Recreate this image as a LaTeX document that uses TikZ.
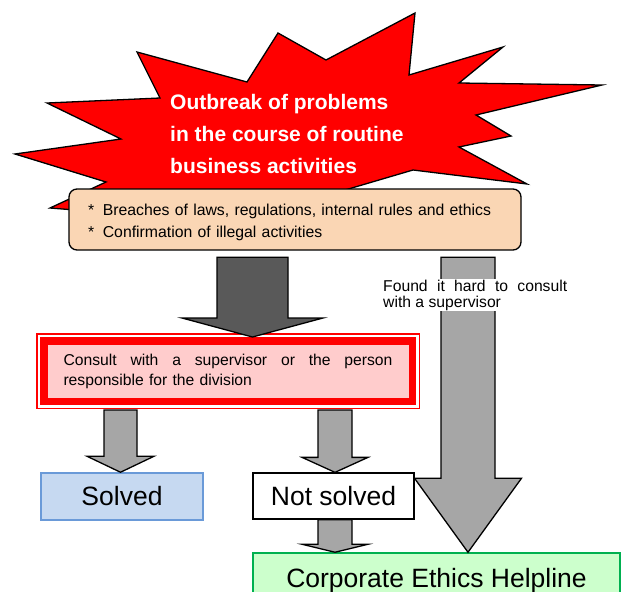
\documentclass[tikz,border=0pt]{standalone}
\usepackage{fontspec}
\setmainfont{Liberation Sans}
\usetikzlibrary{calc}

\definecolor{peach}{HTML}{FAD6B4}
\definecolor{pinkfill}{HTML}{FFCCCC}
\definecolor{darkarrow}{HTML}{595959}
\definecolor{lightarrow}{HTML}{A6A6A6}
\definecolor{solvedfill}{HTML}{C6D9F1}
\definecolor{solvedline}{HTML}{6A9AD8}
\definecolor{helpfill}{HTML}{CCFFCC}
\definecolor{helpline}{HTML}{00B050}

% block arrow: colour, x, from, to, half shaft, half head, head length
\newcommand\blockarrow[7]{%
  \draw[fill=#1, line width=1.3pt] let \p1=(#3), \p2=(#4) in
    (#2pt-#5pt,\y1) -- (#2pt+#5pt,\y1) -- (#2pt+#5pt,\y2+#7pt) -- (#2pt+#6pt,\y2+#7pt)
    -- (#2pt,\y2) -- (#2pt-#6pt,\y2+#7pt) -- (#2pt-#5pt,\y2+#7pt) -- cycle;}

\tikzset{
  bigtext/.style={font=\fontsize{26.5}{30}\selectfont, inner sep=0pt},
  smalltext/.style={font=\fontsize{15.7}{20}\selectfont},
}

\begin{document}
\begin{tikzpicture}[x=1pt, y=-1pt]
    \clip (0,0) rectangle (622,592);

    % the burst
    \draw[fill=red, line width=1.3pt]
      (137,52) -- (247,82) -- (278,33) -- (326,60) -- (415,13) -- (409,75)
      -- (503,47) -- (459,83) -- (602,85) -- (476,115) -- (511,136) -- (459,147)
      -- (527,184) -- (413,170) -- (345,190) -- (200,212) -- (100,212) -- (50,208)
      -- (106,182) -- (15,154) -- (121,139) -- (47,103) -- (160,98) -- cycle;
    \node[anchor=west, text=white, inner sep=0pt, align=left,
          font=\bfseries\fontsize{21}{32}\selectfont] (outbreak) at (170,134)
      {Outbreak of problems\\in the course of routine\\business activities};

    \node[draw, fill=peach, rounded corners=8pt, line width=1.3pt,
          font=\fontsize{15.8}{22.5}\selectfont, minimum width=452pt, minimum height=61pt,
          text width=414pt, inner xsep=19pt, align=left] (issues) at (295,219.5)
      {\rule{0pt}{17pt}{*}\hspace{0.55em}Breaches of laws, regulations, internal rules and ethics\\
       {*}\hspace{0.55em}Confirmation of illegal activities};

    \node[draw=red, line width=7.5pt, fill=pinkfill, minimum width=368.5pt,
          minimum height=60.5pt, inner sep=0pt, text width=329pt, align=left,
          smalltext] (consult) at (228,371)
      {\hbox to 329pt{Consult\hfill with\hfill a\hfill supervisor\hfill or\hfill the\hfill person}\\
       responsible for the division};
    \draw[red, line width=1.5pt] ([xshift=-3.25pt,yshift=3.25pt]consult.north west)
      rectangle ([xshift=3.25pt,yshift=-3.25pt]consult.south east);

    \node[draw=solvedline, fill=solvedfill, line width=1.5pt, bigtext,
          minimum width=162pt, minimum height=47pt] (solved) at (122,496.5) {Solved};
    \node[draw, fill=white, line width=1.3pt, bigtext,
          minimum width=161pt, minimum height=46pt] (notsolved) at (333.5,496) {Not solved};
    \node[draw=helpline, fill=helpfill, line width=1.5pt, bigtext,
          minimum width=367pt, minimum height=56pt] (helpline) at (436.5,581)
      {Corporate Ethics Helpline};

    \blockarrow{darkarrow}{252.5}{[yshift=-6.5pt]issues.south}{consult.north}{35.5}{70.5}{19}
    \blockarrow{lightarrow}{120.5}{[yshift=-5pt]consult.south}{solved.north}{16.5}{33.5}{16}
    \blockarrow{lightarrow}{335}{[yshift=-5pt]consult.south}{notsolved.north}{17}{33}{15}
    \blockarrow{lightarrow}{335}{notsolved.south}{helpline.north}{17}{33}{8}
    \blockarrow{lightarrow}{468}{[yshift=-6.5pt]issues.south}{helpline.north}{27}{53.5}{74}

    \node[fill=white, inner xsep=0pt, inner ysep=1pt, anchor=north west, align=left,
          font=\fontsize{15.7}{15.5}\selectfont] (hard) at (383,279)
      {\hbox to 184pt{Found\hfill it\hfill hard\hfill to\hfill consult}\\with a supervisor};
\end{tikzpicture}
\end{document}
